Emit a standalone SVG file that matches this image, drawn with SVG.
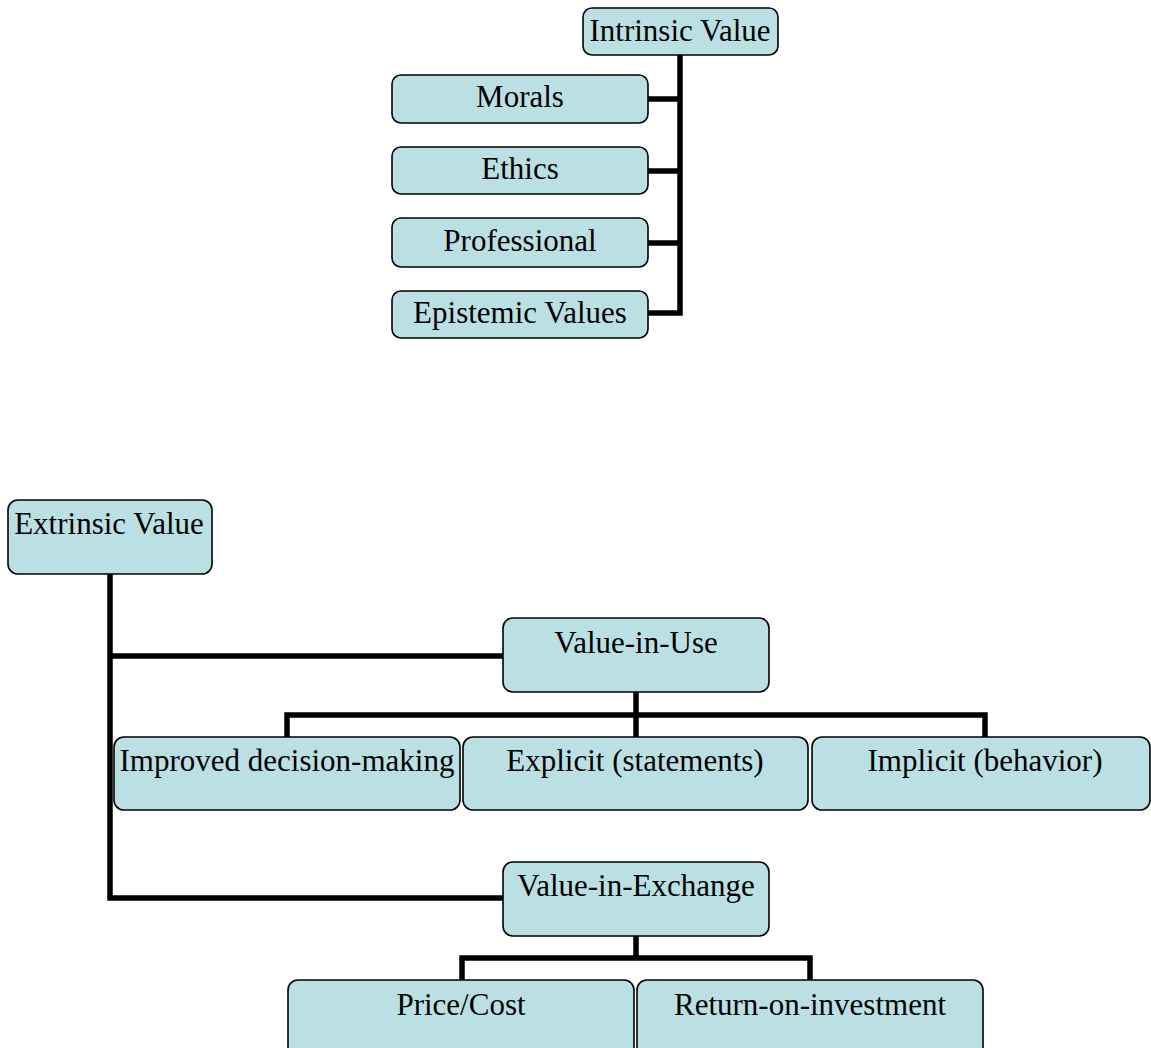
<svg xmlns="http://www.w3.org/2000/svg" width="1151" height="1048" viewBox="0 0 1151 1048">
<style>
.box{fill:#bbe0e3;stroke:#000;stroke-width:1.6}
.t{font-family:'Liberation Serif',serif;font-size:31px;fill:#000;text-anchor:middle}
.c{fill:none;stroke:#000;stroke-width:5.5;stroke-linejoin:miter;stroke-linecap:butt}
</style>
<rect width="1151" height="1048" fill="#fff"/>
<g id="connectors">
<path class="c" d="M680 55 V313 H648"/>
<path class="c" d="M648 99 H680 M648 171 H680 M648 243 H680"/>
<path class="c" d="M110 574 V898 H503"/>
<path class="c" d="M110 656 H503"/>
<path class="c" d="M636 692 V715"/>
<path class="c" d="M287 737 V715 H985 V737"/>
<path class="c" d="M636 715 V737"/>
<path class="c" d="M636 936 V958"/>
<path class="c" d="M462 980 V958 H810 V980"/>
</g>
<g id="intrinsic"><rect class="box" x="583" y="8" width="195" height="47" rx="9"/><text class="t" x="680" y="41">Intrinsic Value</text></g>
<g id="morals"><rect class="box" x="392" y="75" width="256" height="48" rx="9"/><text class="t" x="520" y="107">Morals</text></g>
<g id="ethics"><rect class="box" x="392" y="147" width="256" height="47" rx="9"/><text class="t" x="520" y="179">Ethics</text></g>
<g id="professional"><rect class="box" x="392" y="218" width="256" height="49" rx="9"/><text class="t" x="520" y="251">Professional</text></g>
<g id="epistemic"><rect class="box" x="392" y="291" width="256" height="47" rx="9"/><text class="t" x="520" y="323">Epistemic Values</text></g>
<g id="extrinsic"><rect class="box" x="8" y="500" width="204" height="74" rx="10"/><text class="t" x="109" y="534">Extrinsic Value</text></g>
<g id="value-in-use"><rect class="box" x="503" y="618" width="266" height="74" rx="10"/><text class="t" x="636" y="653">Value-in-Use</text></g>
<g id="improved"><rect class="box" x="114" y="737" width="346" height="73" rx="10"/><text class="t" x="287" y="771">Improved decision-making</text></g>
<g id="explicit"><rect class="box" x="463" y="737" width="345" height="73" rx="10"/><text class="t" x="635" y="771">Explicit (statements)</text></g>
<g id="implicit"><rect class="box" x="812" y="737" width="338" height="73" rx="10"/><text class="t" x="985" y="771">Implicit (behavior)</text></g>
<g id="value-in-exchange"><rect class="box" x="503" y="862" width="266" height="74" rx="10"/><text class="t" x="636" y="896">Value-in-Exchange</text></g>
<g id="price"><rect class="box" x="288" y="980" width="346" height="80" rx="10"/><text class="t" x="461" y="1015">Price/Cost</text></g>
<g id="roi"><rect class="box" x="637" y="980" width="346" height="80" rx="10"/><text class="t" x="810" y="1015">Return-on-investment</text></g>
</svg>
